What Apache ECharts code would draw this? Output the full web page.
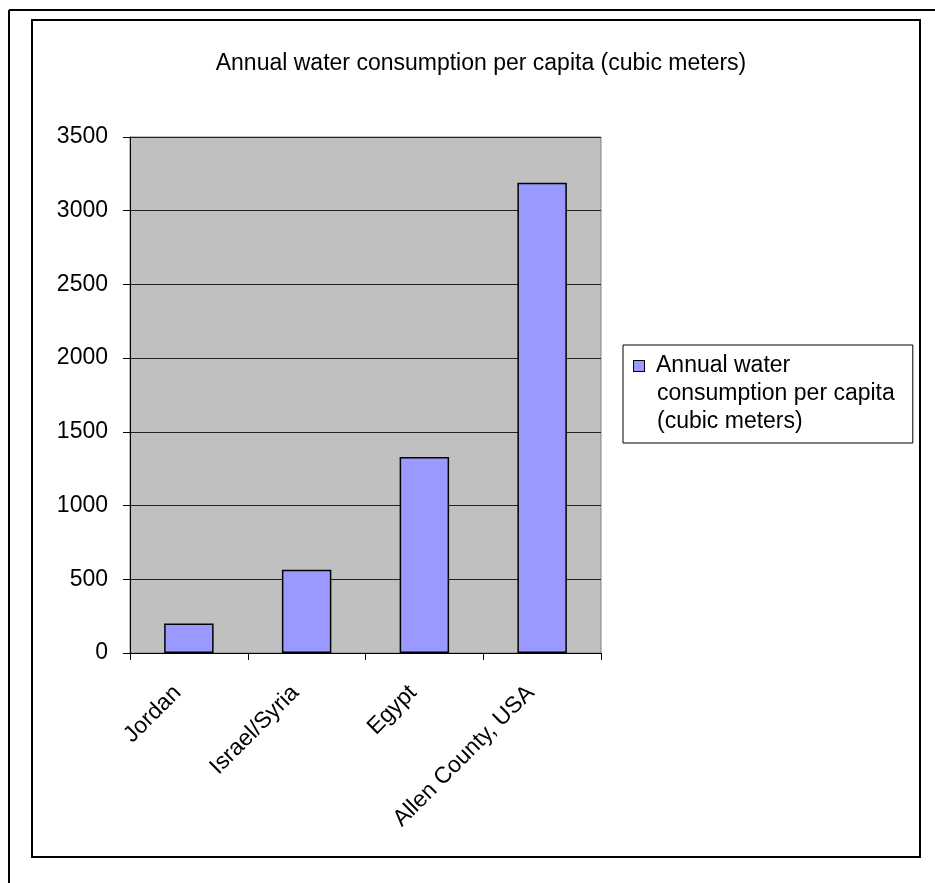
<!DOCTYPE html>
<html>
<head>
<meta charset="utf-8">
<script src="https://cdn.jsdelivr.net/npm/echarts@6/dist/echarts.min.js"></script>
<style>
  html, body { margin: 0; padding: 0; background: #fff; }
  #chart { width: 935px; height: 883px; }
</style>
</head>
<body>
<div id="chart"></div>
<script>
let FONT = 'Liberation Sans, Arial, sans-serif';

// ------------------ data ------------------
let categories = ['Jordan', 'Israel/Syria', 'Egypt', 'Allen County, USA'];
let consumption = [200, 565, 1330, 3190];
let seriesName = 'Annual water consumption per capita (cubic meters)';
let chartTitle = 'Annual water consumption per capita (cubic meters)';

let myChart = echarts.init(document.getElementById('chart'));

let option = {
    backgroundColor: '#fff',
    animation: false,
    title: {
        text: chartTitle,
        left: 476,
        top: 47,
        textAlign: 'center',
        textStyle: {fontFamily: FONT, fontSize: 23, fontWeight: 'normal', color: '#000'}
    },
    legend: {
        left: 623,
        top: 345,
        orient: 'vertical',
        itemWidth: 0,
        itemHeight: 0,
        padding: [7, 18, 7, 5],
        borderColor: '#000',
        borderWidth: 1,
        backgroundColor: '#fff',
        data: [seriesName],
        formatter: function () {
            return '{sq| }{g| }Annual water\n{s| }consumption per capita\n{s| }(cubic meters)';
        },
        textStyle: {
            fontFamily: FONT, fontSize: 23, lineHeight: 28, color: '#000',
            rich: {
                sq: {width: 10, height: 10, backgroundColor: '#9999FF', borderColor: '#000', borderWidth: 1},
                g: {width: 12},
                s: {width: 23}
            }
        }
    },
    grid: {
        left: 130,
        top: 137,
        right: 334,
        bottom: 230,
        show: true,
        backgroundColor: '#C0C0C0',
        borderColor: '#808080',
        borderWidth: 1
    },
    xAxis: {
        type: 'category',
        data: categories,
        axisLine: {lineStyle: {color: '#000', width: 1}},
        axisTick: {show: true, length: 7, lineStyle: {color: '#000'}},
        axisLabel: {rotate: 45, margin: 25, padding: [0, 16, 0, 0], fontFamily: FONT, fontSize: 23, color: '#000', interval: 0}
    },
    yAxis: {
        type: 'value',
        min: 0,
        max: 3500,
        interval: 500,
        axisLine: {show: true, lineStyle: {color: '#000', width: 1}},
        axisTick: {show: true, length: 7, lineStyle: {color: '#000'}},
        axisLabel: {
            margin: 22, fontFamily: FONT, fontSize: 23, color: '#000',
            formatter: function (v) { return String(v); }
        },
        splitLine: {show: true, lineStyle: {color: '#222', width: 1}}
    },
    series: [
        {
            name: seriesName,
            type: 'bar',
            data: consumption,
            barWidth: '42%',
            itemStyle: {color: '#9999FF', borderColor: '#000', borderWidth: 1.5}
        }
    ],
    graphic: [
        // inner frame
        {type: 'rect', shape: {x: 32, y: 20, width: 888, height: 837}, style: {fill: null, stroke: '#000', lineWidth: 2}, z: -1},
        // outer frame (top and left edges only visible)
        {type: 'line', shape: {x1: 9, y1: 10, x2: 935, y2: 10}, style: {stroke: '#000', lineWidth: 2}},
        {type: 'line', shape: {x1: 9, y1: 10, x2: 9, y2: 883}, style: {stroke: '#000', lineWidth: 2}}
    ]
};

myChart.setOption(option, true);
</script>
</body>
</html>
